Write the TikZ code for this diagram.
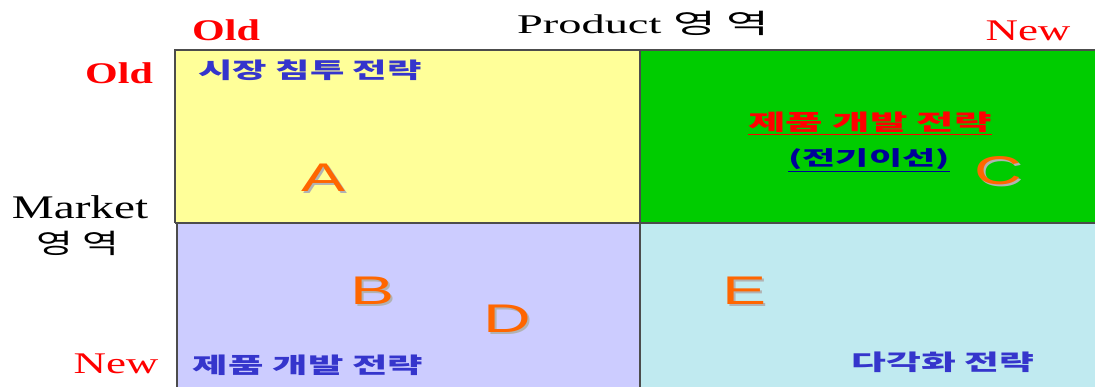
\documentclass[tikz,border=0pt]{standalone}
\usepackage{graphicx}
\usepackage{fontspec}
\setmainfont{Liberation Serif}
\setsansfont{Liberation Sans}
\newfontfamily\kr{Noto Sans CJK KR}
\newcommand{\xs}[2]{\scalebox{#1}[1]{#2}}
\begin{document}
\begin{tikzpicture}[x=1pt,y=-1pt,
  cell/.style={draw=black!70,line width=1.2pt},
  axis/.style={text=red,inner sep=0pt},
  strat/.style={text=sb,inner sep=1pt,font=\kr\bfseries\fontsize{22}{22}\selectfont},
  letter/.style={text=lo,inner sep=0pt,font=\sffamily\fontsize{40}{40}\selectfont},
  shadow/.style={text=black!30,inner sep=0pt,font=\sffamily\fontsize{40}{40}\selectfont}]
\useasboundingbox (0,0) rectangle (1095,387);
\definecolor{qy}{HTML}{FFFF99}
\definecolor{qg}{HTML}{00CC00}
\definecolor{ql}{HTML}{CCCCFF}
\definecolor{qc}{HTML}{C0EAF0}
\definecolor{sb}{HTML}{3535CC}
\definecolor{lo}{HTML}{FF6600}
\definecolor{db}{HTML}{000099}
\fill[qy] (175,50) rectangle (640,223);
\fill[qg] (640,50) rectangle (1095,223);
\fill[ql] (177,223) rectangle (640,387);
\fill[qc] (640,223) rectangle (1095,387);
\draw[cell] (175,223) -- (175,50) -- (1095,50);
\draw[cell] (175,223) -- (1095,223);
\draw[cell] (177,223) -- (177,387);
\draw[cell] (640,50) -- (640,387);
% axis labels
\node[axis,font=\bfseries\fontsize{30}{30}\selectfont] (oldtop) at (226,30) {\xs{1.4}{Old}};
\node[axis,font=\fontsize{30}{30}\selectfont] (newtop) at (1028,31) {\xs{1.5}{New}};
\node[axis,font=\bfseries\fontsize{30}{30}\selectfont] (oldleft) at (119,73) {\xs{1.4}{Old}};
\node[axis,font=\fontsize{30}{30}\selectfont] (newleft) at (116,364) {\xs{1.5}{New}};
\node[inner sep=0pt,font=\fontsize{27}{27}\selectfont] (prod) at (643,23) {\xs{1.72}{Product {\kr\fontsize{27}{27}\selectfont 영 역}}};
\node[inner sep=0pt,font=\fontsize{33}{33}\selectfont] (mkt) at (80,207) {\xs{1.43}{Market}};
\node[inner sep=0pt,font=\kr\fontsize{27}{27}\selectfont] (mkt2) at (78,243) {\xs{1.48}{영 역}};
% strategies
\node[strat] (s1) at (310,70) {\xs{1.7}{시장 침투 전략}};
\node[strat,text=red] (s2) at (870,123) {\xs{1.85}{\underline{제품 개발 전략}}};
\node[strat,text=db,font=\kr\bfseries\fontsize{20}{20}\selectfont] (s3) at (869,160) {\xs{1.8}{\underline{(전기이선)}}};
\node[strat] (s4) at (308,365) {\xs{1.75}{제품 개발 전략}};
\node[strat] (s5) at (943,362) {\xs{1.72}{다각화 전략}};
% letters
\foreach \n/\l/\x/\y in {la/A/324/178, lc/C/998/171, lb/B/373/291, ld/D/507/319, le/E/745/291}{
  \node[shadow] at (\x+2,\y+2) {\xs{1.65}{\l}};
  \node[letter] (\n) at (\x,\y) {\xs{1.65}{\l}};
}
\end{tikzpicture}
\end{document}
